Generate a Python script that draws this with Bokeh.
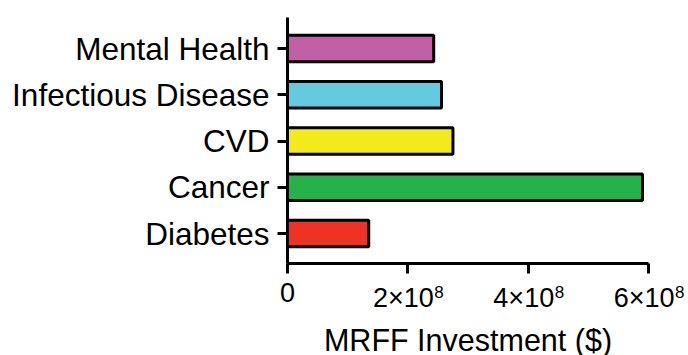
from bokeh.plotting import figure
from bokeh.models import Range1d, FixedTicker, ColumnDataSource, Label
from bokeh.embed import file_html
from bokeh.resources import INLINE

# Funding by disease area (bottom to top on the chart)
categories = ["Diabetes", "Cancer", "CVD", "Infectious Disease", "Mental Health"]
investment = [1.35e8, 5.90e8, 2.75e8, 2.56e8, 2.43e8]
bar_colors = ["#EE3224", "#26B14B", "#F3EA1C", "#66CADE", "#C260A5"]

# x ticks: mantissa part and power-of-ten exponent, drawn as base + superscript
x_ticks = [0, 2e8, 4e8, 6e8]
x_tick_base = ["0", "2×10", "4×10", "6×10"]
x_tick_exp = ["", "8", "8", "8"]
x_title = "MRFF Investment ($)"

FONT = "Liberation Sans"

# layout constants (pixels)
W, H = 688, 355
ORIGIN_X = 287               # where x = 0 sits
AXIS_PX = 361                # length of the x axis (0 .. 6e8)
CAT_PX = 46.25               # distance between category rows
TOP_ROW_PX = 48              # centre of the top row
TOP_GAP = 31                 # y axis reaches this far above the top row
BOTTOM_GAP = 30              # x axis lies this far below the bottom row

n = len(categories)
rows = list(range(n))
x_max = x_ticks[-1]
per_px = x_max / AXIS_PX
x_start = -ORIGIN_X * per_px
x_end = (W - ORIGIN_X) * per_px
y_end = (n - 1) + TOP_ROW_PX / CAT_PX
y_start = y_end - H / CAT_PX
y_top = (n - 1) + TOP_GAP / CAT_PX
y_axis = -BOTTOM_GAP / CAT_PX

source = ColumnDataSource(dict(row=rows, val=investment, color=bar_colors))

p = figure(
    width=W, height=H,
    x_range=Range1d(x_start, x_end), y_range=Range1d(y_start, y_end),
    output_backend="svg", toolbar_location=None,
    min_border=0,
)

p.hbar(y="row", right="val", left=0, height=0.57, source=source,
       fill_color="color", line_color="black", line_width=3)

p.outline_line_color = None
p.xgrid.grid_line_color = None
p.ygrid.grid_line_color = None
p.background_fill_color = "white"
p.border_fill_color = "white"

for ax in (p.xaxis[0], p.yaxis[0]):
    ax.axis_line_width = 3
    ax.axis_line_color = "black"
    ax.major_tick_line_width = 3
    ax.major_tick_line_color = "black"
    ax.major_tick_out = 10
    ax.major_tick_in = 0
    ax.minor_tick_line_color = None
    ax.major_label_text_font = FONT
    ax.major_label_text_color = "black"

# category axis, pinned at x = 0
ya = p.yaxis[0]
ya.ticker = FixedTicker(ticks=rows, minor_ticks=[])
ya.major_label_overrides = {r: c for r, c in zip(rows, categories)}
ya.major_label_text_font_size = "31.5px"
ya.major_label_standoff = 8
ya.fixed_location = 0
ya.bounds = (y_axis, y_top)

# value axis pinned below the bottom row; its labels are drawn as text below it
xa = p.xaxis[0]
xa.ticker = FixedTicker(ticks=x_ticks, minor_ticks=[])
xa.fixed_location = y_axis
xa.bounds = (0, x_max)
xa.major_label_text_color = None

for t, base, exp in zip(x_ticks, x_tick_base, x_tick_exp):
    if exp:
        p.add_layout(Label(x=t, y=y_axis, y_offset=-34, x_offset=26, text=base,
                           text_align="right", text_baseline="middle",
                           text_font=FONT, text_font_size="27px", text_color="black"))
        p.add_layout(Label(x=t, y=y_axis, y_offset=-28, x_offset=26.5, text=exp,
                           text_align="left", text_baseline="middle",
                           text_font=FONT, text_font_size="17px", text_color="black"))
    else:
        p.add_layout(Label(x=t, y=y_axis, y_offset=-29, text=base,
                           text_align="center", text_baseline="middle",
                           text_font=FONT, text_font_size="27px", text_color="black"))

p.add_layout(Label(x=x_max / 2, y=y_axis, y_offset=-76, text=x_title,
                   text_align="center", text_baseline="middle",
                   text_font=FONT, text_font_size="30.5px", text_color="black"))

open("out.html", "w").write(file_html(p, INLINE))
